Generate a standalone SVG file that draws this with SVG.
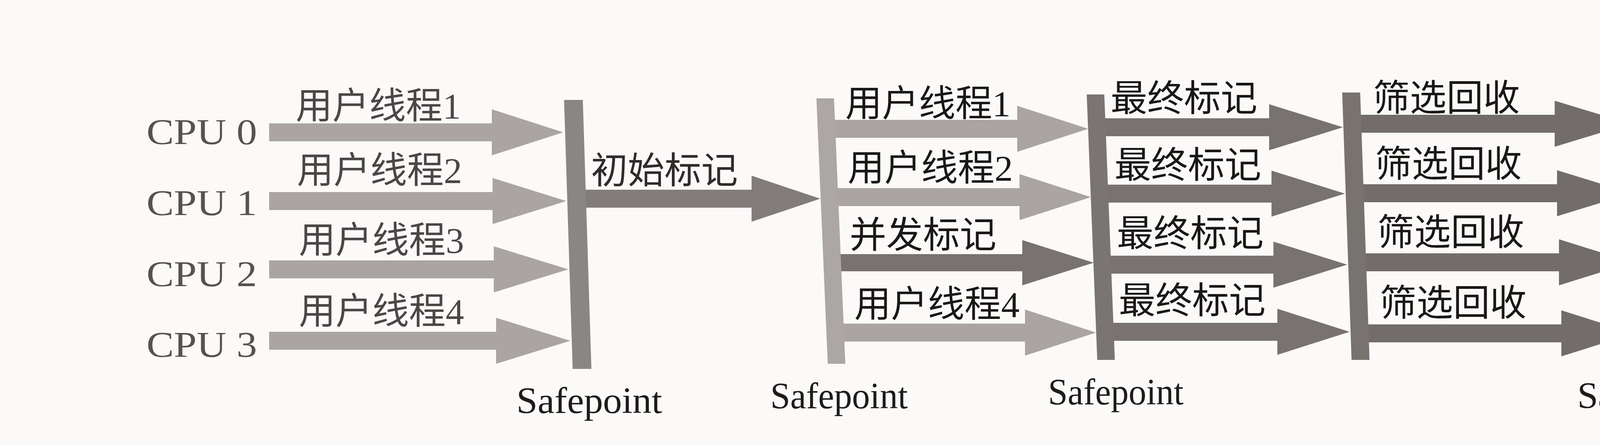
<svg xmlns="http://www.w3.org/2000/svg" width="5954" height="1140" viewBox="0 0 5954 1140">
<style>
.cpu{font-family:"Liberation Serif","Times New Roman",serif;font-size:94px;fill:#555250}
.sp{font-family:"Liberation Serif","Times New Roman",serif;font-size:96px;fill:#1e1c1b}
.lb{font-family:"Liberation Serif","Noto Sans CJK SC",sans-serif;font-size:94px;fill:#1a1817}
.lb0{font-family:"Liberation Serif","Noto Sans CJK SC",sans-serif;font-size:94px;fill:#4a4746}
.aL{fill:#aaa5a2}
.aM{fill:#827d7b}
.aD{fill:#787370}
.aD2{fill:#726d6a}
.aL2{fill:#a6a19e}
</style>
<rect x="0" y="0" width="5954" height="1140" fill="#ffffff"/>
<rect x="0" y="0" width="4922" height="1140" fill="#fbfaf9"/>

<g id="connectors">
  <polygon class="aL" points="689,316 1259,316 1259,280 1442,339 1259,398 1259,362 689,362"/>
  <polygon class="aL" points="689,492 1261,492 1261,456 1450,515 1261,574 1261,538 689,538"/>
  <polygon class="aL" points="689,667 1264,667 1264,631 1455,690 1264,749 1264,713 689,713"/>
  <polygon class="aL" points="689,850 1270,850 1270,814 1460,873 1270,932 1270,896 689,896"/>
  <polygon class="aM" points="1480,486 1924,486 1924,450 2100,509 1924,568 1924,532 1480,532"/>
  <polygon class="aL" points="2120,307 2604,307 2604,271 2786,330 2604,389 2604,353 2120,353"/>
  <polygon class="aL" points="2120,482 2610,482 2610,446 2793,505 2610,564 2610,528 2120,528"/>
  <polygon class="aD" points="2120,651 2617,651 2617,615 2800,673 2617,731 2617,695 2120,695"/>
  <polygon class="aL" points="2120,829 2624,829 2624,793 2806,852 2624,911 2624,875 2120,875"/>
  <polygon class="aD" points="2810,303 3249,303 3249,267 3438,326 3249,385 3249,349 2810,349"/>
  <polygon class="aD" points="2810,473 3255,473 3255,437 3443,496 3255,555 3255,519 2810,519"/>
  <polygon class="aD" points="2810,655 3260,655 3260,619 3449,678 3260,737 3260,701 2810,701"/>
  <polygon class="aD" points="2810,827 3270,827 3270,791 3455,850 3270,909 3270,873 2810,873"/>
  <polygon class="aD2" points="3470,294 3980,294 3980,258 4174,317 3980,376 3980,340 3470,340"/>
  <polygon class="aD2" points="3470,472 3986,472 3986,436 4177,495 3986,554 3986,518 3470,518"/>
  <polygon class="aD2" points="3470,649 3991,649 3991,613 4180,672 3991,731 3991,695 3470,695"/>
  <polygon class="aD2" points="3470,831 3997,831 3997,795 4184,854 3997,913 3997,877 3470,877"/>
  <polygon class="aL2" points="4200,291 4714,291 4714,254 4866,314 4714,374 4714,337 4200,337"/>
  <polygon class="aL2" points="4200,469 4720,469 4720,432 4871,492 4720,552 4720,515 4200,515"/>
  <polygon class="aL2" points="4200,647 4726,647 4726,610 4877,670 4726,730 4726,693 4200,693"/>
  <polygon class="aL2" points="4200,833 4732,833 4732,796 4887,856 4732,916 4732,879 4200,879"/>
</g>

<g id="cpus">
  <text id="cpu0" class="cpu" x="375" y="369" textLength="283" lengthAdjust="spacingAndGlyphs">CPU 0</text>
  <text id="cpu1" class="cpu" x="375" y="551" textLength="283" lengthAdjust="spacingAndGlyphs">CPU 1</text>
  <text id="cpu2" class="cpu" x="375" y="733" textLength="283" lengthAdjust="spacingAndGlyphs">CPU 2</text>
  <text id="cpu3" class="cpu" x="375" y="914" textLength="283" lengthAdjust="spacingAndGlyphs">CPU 3</text>
</g>

<g id="safepoint1">
  <polygon fill="#8a8684" points="1444,256 1492,256 1514,945 1466,945"/>
  <text class="sp" x="1322" y="1058" textLength="373" lengthAdjust="spacingAndGlyphs">Safepoint</text>
</g>
<g id="safepoint2">
  <polygon fill="#aca7a4" points="2090,252 2135,252 2164,932 2119,932"/>
  <text class="sp" x="1972" y="1046" textLength="352" lengthAdjust="spacingAndGlyphs">Safepoint</text>
</g>
<g id="safepoint3">
  <polygon fill="#7a7572" points="2782,242 2827,242 2854,922 2809,922"/>
  <text class="sp" x="2683" y="1036" textLength="347" lengthAdjust="spacingAndGlyphs">Safepoint</text>
</g>
<g id="safepoint4">
  <polygon fill="#78736f" points="3436,237 3482,237 3506,922 3460,922"/>
</g>
<g id="safepoint5">
  <polygon fill="#a39e9b" points="4175,230 4221,230 4233,935 4187,935"/>
  <text class="sp" x="4038" y="1045" textLength="366" lengthAdjust="spacingAndGlyphs">Safepoint</text>
</g>

<g id="labels">
  <text class="lb0" x="757" y="304">用户线程1</text>
  <text class="lb0" x="760" y="469">用户线程2</text>
  <text class="lb0" x="765" y="648">用户线程3</text>
  <text class="lb0" x="765" y="830">用户线程4</text>
  <text class="lb0" x="1513" y="470" style="fill:#2e2b2a">初始标记</text>
  <text class="lb" x="2164" y="298">用户线程1</text>
  <text class="lb" x="2170" y="463">用户线程2</text>
  <text class="lb" x="2175" y="635">并发标记</text>
  <text class="lb" x="2187" y="812">用户线程4</text>
  <text class="lb" x="2843" y="285">最终标记</text>
  <text class="lb" x="2853" y="456">最终标记</text>
  <text class="lb" x="2859" y="631">最终标记</text>
  <text class="lb" x="2864" y="803">最终标记</text>
  <text class="lb" x="3515" y="284">筛选回收</text>
  <text class="lb" x="3520" y="453">筛选回收</text>
  <text class="lb" x="3526" y="628">筛选回收</text>
  <text class="lb" x="3532" y="809">筛选回收</text>
  <text class="lb" x="4250" y="278">用户线程1</text>
  <text class="lb" x="4255" y="450">用户线程2</text>
  <text class="lb" x="4255" y="631">用户线程3</text>
  <text class="lb" x="4261" y="815">用户线程4</text>
</g>
</svg>
